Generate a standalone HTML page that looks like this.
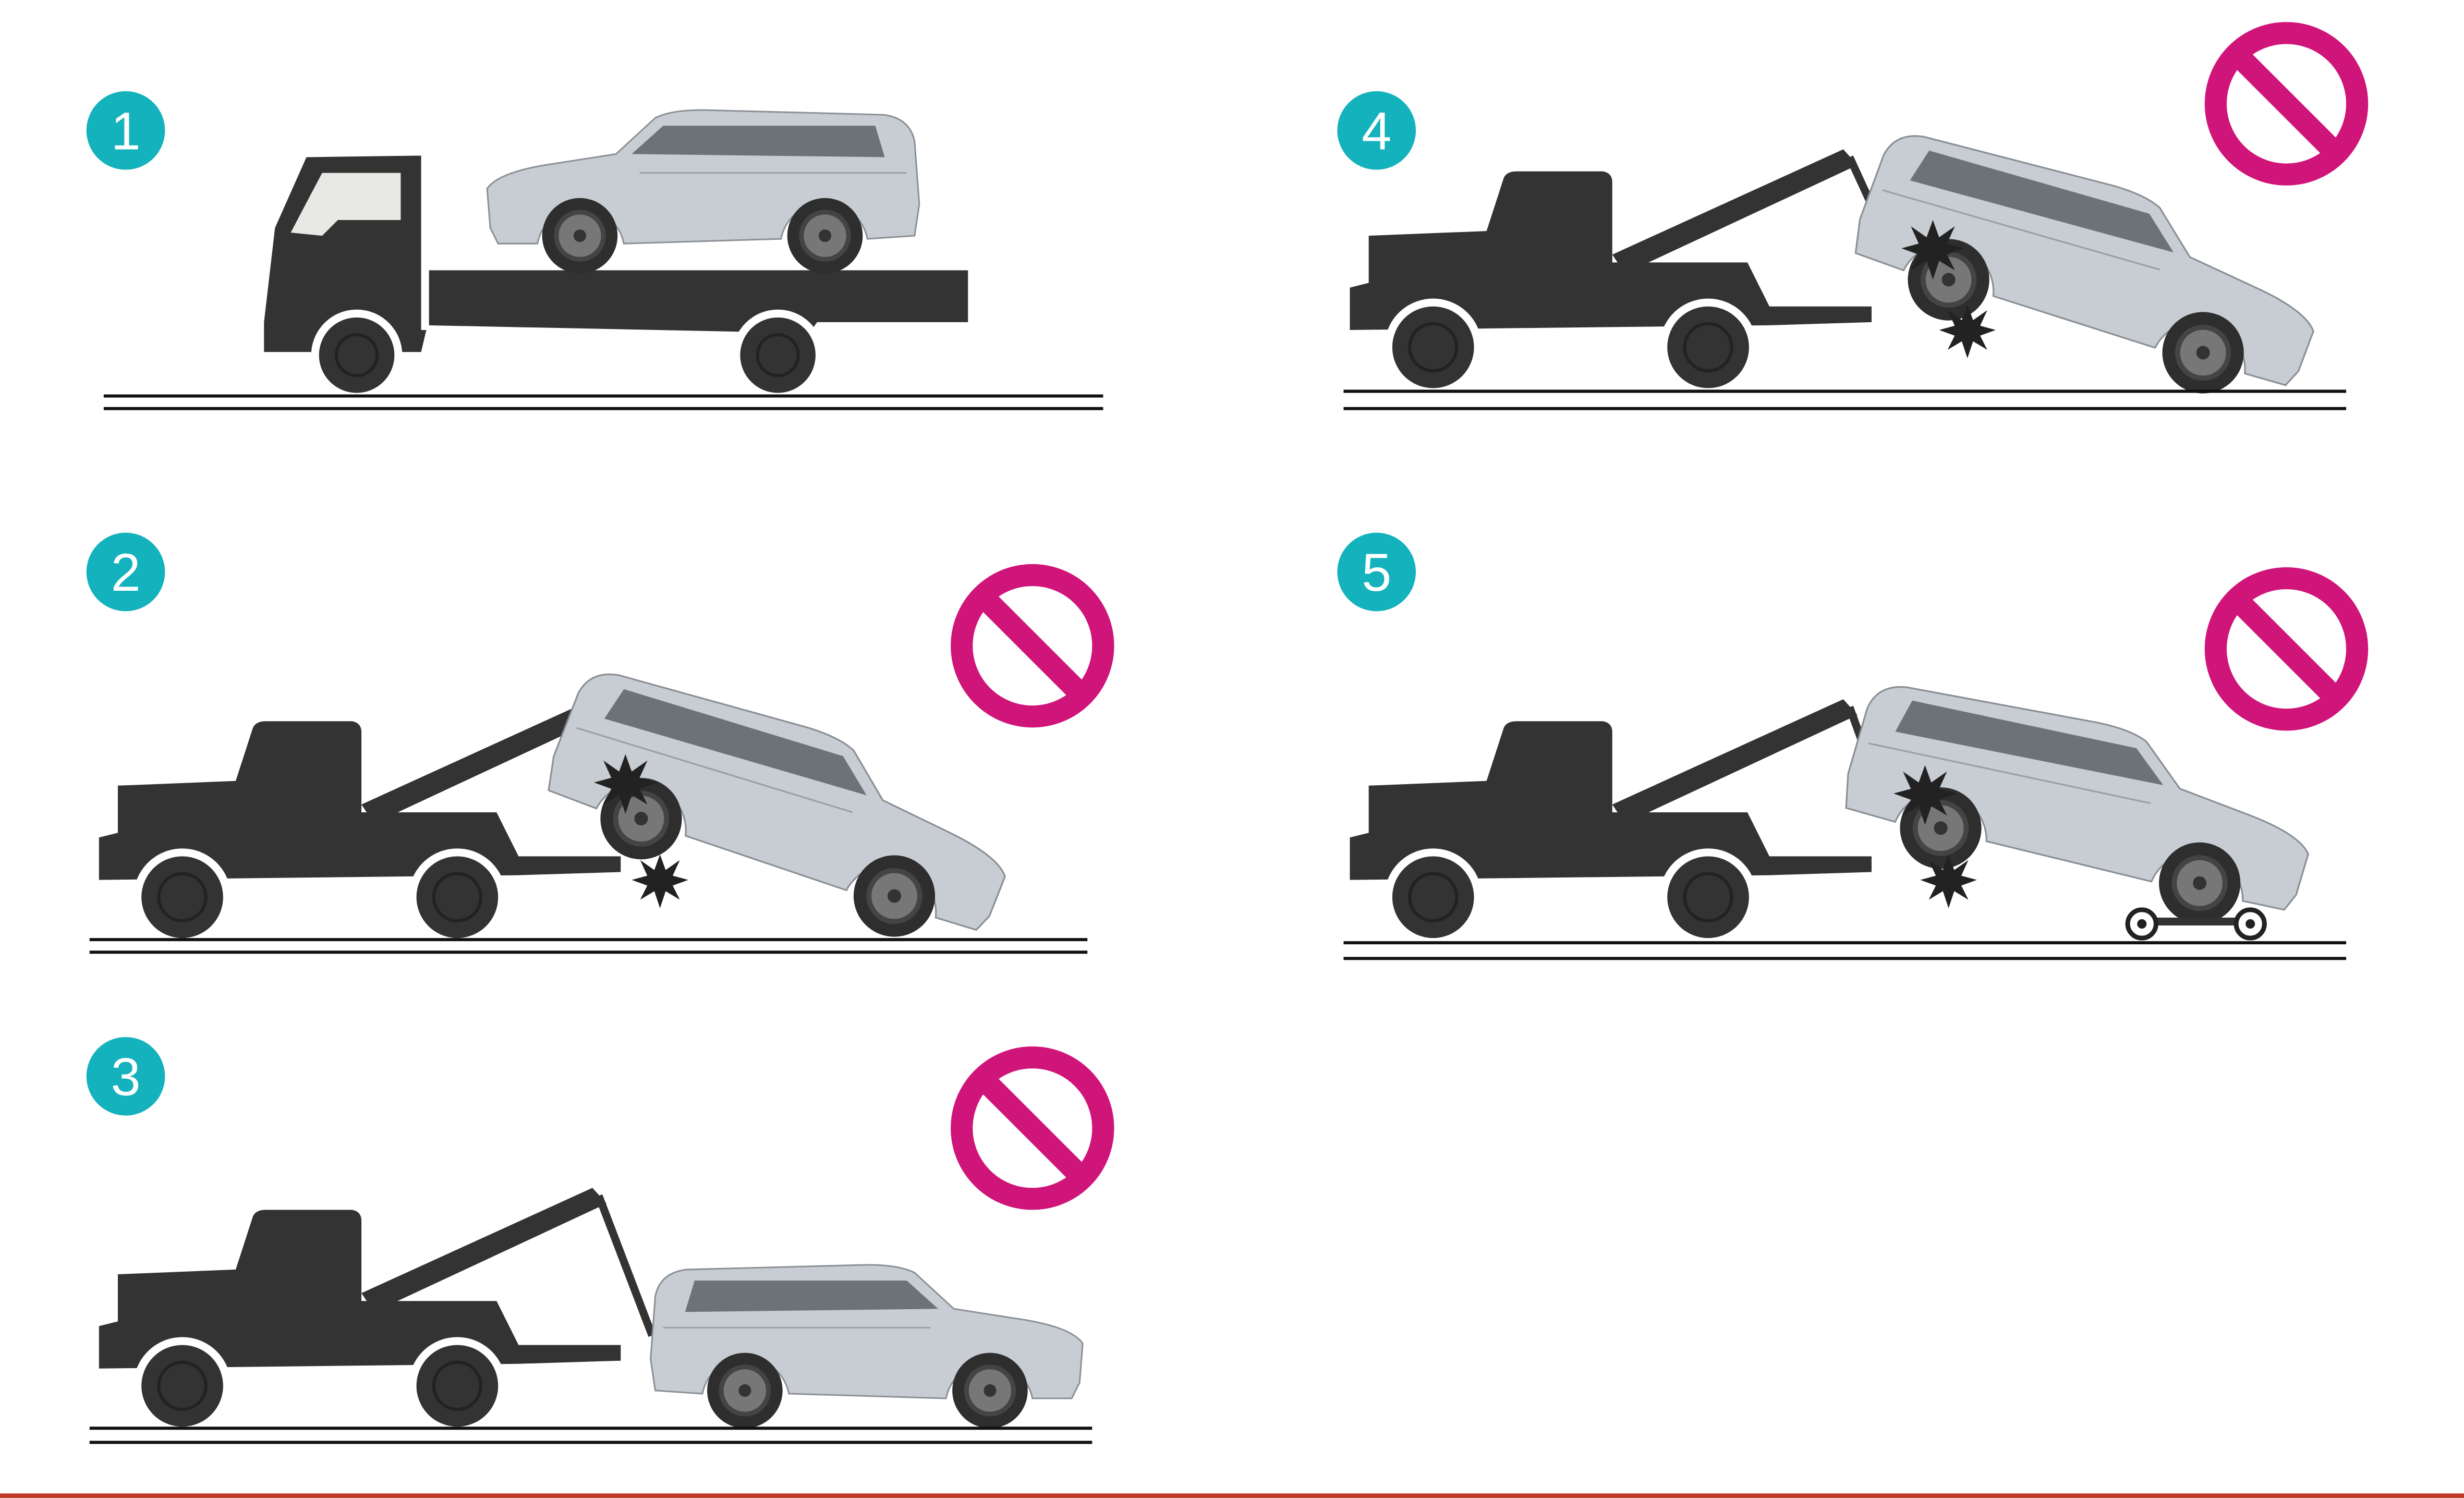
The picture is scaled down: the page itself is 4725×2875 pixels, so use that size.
<!DOCTYPE html>
<html><head><meta charset="utf-8"><style>
html,body{margin:0;padding:0;background:#fff;}
svg{display:block;}
</style></head><body>
<svg width="4725" height="2875" viewBox="0 0 1568 954" xmlns="http://www.w3.org/2000/svg">
<defs>
  <g id="truck">
    <path d="M63,533 L75,530 L75,500 L150,497 L161,463 Q163,459 169,459 L224,459 Q230,460 230,466 L230,517 L316,517 L330,545 L395,545 L395,555 L330,557 L63,560 Z" fill="#333"/>
    <polygon points="230,512 377,445 386,455 238,524" fill="#333"/>
    <circle cx="116" cy="571" r="31" fill="#fff"/>
    <circle cx="291" cy="571" r="31" fill="#fff"/>
    <circle cx="116" cy="571" r="26" fill="#333"/>
    <circle cx="291" cy="571" r="26" fill="#333"/>
    <circle cx="116" cy="571" r="15" fill="none" stroke="#222" stroke-width="2"/>
    <circle cx="291" cy="571" r="15" fill="none" stroke="#222" stroke-width="2"/>
  </g>
  <g id="car">
    <path d="M5,75 L3,50 Q10,40 40,35 L85,28 L110,5 Q120,0 140,0 L255,3 Q272,5 275,20 L278,60 L275,80 L245,82 A28,28 0 0 0 190,82 L90,85 A28,28 0 0 0 35,85 L10,85 Z" fill="#c7cdd2" stroke="#8a9096" stroke-width="1"/>
    <path d="M95,28 L115,10 L250,10 L256,30 Z" fill="#6d7278"/>
    <path d="M100,40 L270,40" stroke="#9aa0a6" stroke-width="1"/>
    <circle cx="62" cy="80" r="24" fill="#2e2e2e"/>
    <circle cx="218" cy="80" r="24" fill="#2e2e2e"/>
    <circle cx="62" cy="80" r="15" fill="#777" stroke="#444" stroke-width="3"/>
    <circle cx="218" cy="80" r="15" fill="#777" stroke="#444" stroke-width="3"/>
    <circle cx="62" cy="80" r="4" fill="#333"/>
    <circle cx="218" cy="80" r="4" fill="#333"/>
  </g>
  <polygon id="burst" points="0,-18 4,-7 14,-14 9,-3 20,0 9,4 14,14 4,8 0,20 -4,8 -14,14 -9,4 -20,0 -9,-3 -14,-14 -4,-7" fill="#222"/>
  <g id="nosign">
    <circle r="45" fill="none" stroke="#d0157a" stroke-width="14"/>
    <line x1="-32" y1="-32" x2="32" y2="32" stroke="#d0157a" stroke-width="14"/>
  </g>
</defs>

<g font-family="Liberation Sans, sans-serif" font-size="34" fill="#fff" text-anchor="middle">
  <circle cx="80" cy="83" r="25" fill="#14b2bd"/><text x="80" y="95">1</text>
  <circle cx="80" cy="364" r="25" fill="#14b2bd"/><text x="80" y="376">2</text>
  <circle cx="80" cy="685" r="25" fill="#14b2bd"/><text x="80" y="697">3</text>
  <circle cx="876" cy="83" r="25" fill="#14b2bd"/><text x="876" y="95">4</text>
  <circle cx="876" cy="364" r="25" fill="#14b2bd"/><text x="876" y="376">5</text>
</g>

<use href="#nosign" transform="translate(1455,66)"/>
<use href="#nosign" transform="translate(657,411)"/>
<use href="#nosign" transform="translate(657,718)"/>
<use href="#nosign" transform="translate(1455,413)"/>

<line x1="0" y1="952" x2="1568" y2="952" stroke="#c0392b" stroke-width="3"/>

<!-- panel 1 flatbed -->
<path d="M168,205 L175,145 L195,100 L268,99 L268,172 L616,172 L616,205 L520,205 L515,212 L272,207 L268,224 L168,224 Z" fill="#333"/>
<polygon points="185,148 205,110 255,110 255,140 215,140 205,150" fill="#e8e8e4"/>
<rect x="268" y="165" width="5" height="45" fill="#fff"/>
<circle cx="227" cy="226" r="29" fill="#fff"/><circle cx="227" cy="226" r="24" fill="#333"/>
<circle cx="227" cy="226" r="13" fill="none" stroke="#222" stroke-width="2"/>
<circle cx="495" cy="226" r="29" fill="#fff"/><circle cx="495" cy="226" r="24" fill="#333"/>
<circle cx="495" cy="226" r="13" fill="none" stroke="#222" stroke-width="2"/>
<use href="#car" transform="translate(307,70)"/>

<!-- panel 2 -->
<use href="#truck"/>
<line x1="381" y1="450" x2="405" y2="515" stroke="#333" stroke-width="5"/>
<use href="#car" transform="translate(408,521) rotate(17) scale(-1.08,1.08) translate(-218,-80)"/>
<use href="#burst" transform="translate(398,498)"/>
<use href="#burst" transform="translate(420,560) scale(0.9)"/>

<!-- panel 3 -->
<use href="#truck" transform="translate(0,311)"/>
<line x1="381" y1="761" x2="415" y2="850" stroke="#333" stroke-width="5"/>
<use href="#car" transform="translate(692,805) scale(-1,1)"/>

<!-- panel 4 -->
<use href="#truck" transform="translate(796,-350)"/>
<line x1="1177" y1="100" x2="1200" y2="150" stroke="#333" stroke-width="5"/>
<use href="#car" transform="translate(1240,178) rotate(16) scale(-1.08,1.08) translate(-218,-80)"/>
<use href="#burst" transform="translate(1230,158)"/>
<use href="#burst" transform="translate(1252,210) scale(0.9)"/>

<!-- panel 5 -->
<use href="#truck" transform="translate(796,0)"/>
<line x1="1177" y1="450" x2="1195" y2="500" stroke="#333" stroke-width="5"/>
<use href="#car" transform="translate(1235,527) rotate(12) scale(-1.08,1.08) translate(-218,-80)"/>
<use href="#burst" transform="translate(1225,505)"/>
<use href="#burst" transform="translate(1240,560) scale(0.9)"/>
<rect x="1363" y="584" width="69" height="5" fill="#333"/>
<circle cx="1363" cy="588" r="9" fill="#fff" stroke="#222" stroke-width="3"/>
<circle cx="1363" cy="588" r="3" fill="#222"/>
<circle cx="1432" cy="588" r="9" fill="#fff" stroke="#222" stroke-width="3"/>
<circle cx="1432" cy="588" r="3" fill="#222"/>

<!-- ground lines drawn last -->
<g stroke="#111" stroke-width="2">
  <line x1="66" y1="252" x2="702" y2="252"/><line x1="66" y1="260" x2="702" y2="260"/>
  <line x1="57" y1="598" x2="692" y2="598"/><line x1="57" y1="606" x2="692" y2="606"/>
  <line x1="57" y1="909" x2="695" y2="909"/><line x1="57" y1="918" x2="695" y2="918"/>
  <line x1="855" y1="249" x2="1493" y2="249"/><line x1="855" y1="260" x2="1493" y2="260"/>
  <line x1="855" y1="600" x2="1493" y2="600"/><line x1="855" y1="610" x2="1493" y2="610"/>
</g>
</svg>
</body></html>
